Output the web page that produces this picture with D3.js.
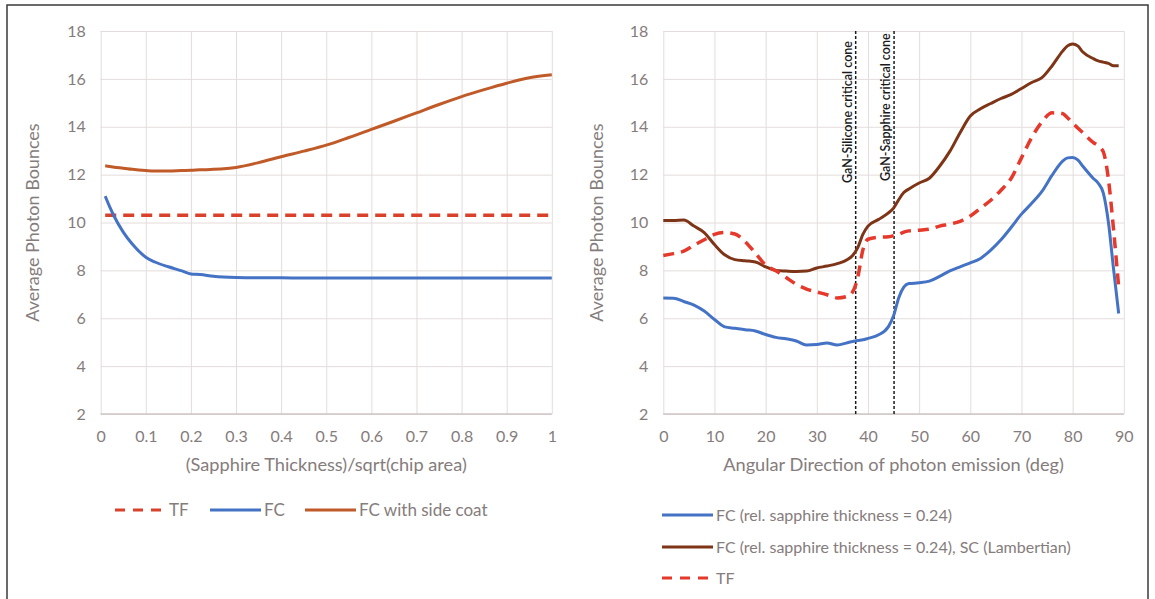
<!DOCTYPE html>
<html>
<head>
<meta charset="utf-8">
<script src="https://cdn.jsdelivr.net/npm/d3@7"></script>
<style>
  body { margin: 0; background: #fff; }
  text { font-family: Lato, "Open Sans", sans-serif; }
</style>
</head>
<body>
<script>
// ---- left panel data: relative sapphire thickness ----
var thickness = [0.01, 0.02, 0.03, 0.05, 0.07, 0.1, 0.12, 0.15, 0.18, 0.2, 0.22, 0.25, 0.3,
  0.35, 0.4, 0.45, 0.5, 0.55, 0.6, 0.65, 0.7, 0.75, 0.8, 0.85, 0.9, 0.95, 1.0];
var fcThick = [11.1, 10.65, 10.25, 9.6, 9.1, 8.55, 8.35, 8.15, 7.98, 7.85, 7.83, 7.75, 7.7,
  7.69, 7.69, 7.68, 7.68, 7.68, 7.68, 7.68, 7.68, 7.68, 7.68, 7.68, 7.68, 7.68, 7.68];
var scThick = [12.37, 12.34, 12.31, 12.27, 12.22, 12.17, 12.15, 12.15, 12.17, 12.18, 12.2, 12.22, 12.3,
  12.5, 12.75, 12.98, 13.23, 13.55, 13.89, 14.23, 14.58, 14.93, 15.26, 15.55, 15.82, 16.05, 16.17];
var tfThickX = [0.01, 1.0];
var tfThick = [10.3, 10.3];

// ---- right panel data: emission angle (deg) ----
var angles = [0, 2, 4, 6, 8, 10, 12, 14, 16, 18, 20, 22, 24, 26, 28, 30, 32, 34, 36, 37, 38, 39, 40,
  42, 44, 45, 46, 47, 48, 50, 52, 54, 56, 58, 60, 62, 64, 66, 68, 70, 72, 74, 76, 78, 79, 80, 81,
  82, 84, 85, 86, 87, 88, 89];
var fcAngle = [6.85, 6.84, 6.7, 6.55, 6.3, 5.95, 5.64, 5.58, 5.52, 5.47, 5.32, 5.2, 5.14, 5.05, 4.88,
  4.9, 4.97, 4.88, 4.98, 5.03, 5.07, 5.1, 5.16, 5.3, 5.65, 6.1, 6.85, 7.3, 7.45, 7.48, 7.55, 7.75,
  7.98, 8.15, 8.31, 8.5, 8.85, 9.28, 9.8, 10.35, 10.8, 11.3, 11.98, 12.55, 12.7, 12.72, 12.62,
  12.35, 11.85, 11.64, 11.23, 10.0, 8.05, 6.2];
var scAngle = [10.08, 10.08, 10.1, 9.85, 9.58, 9.08, 8.65, 8.45, 8.4, 8.35, 8.15, 8.0, 7.97, 7.95,
  7.97, 8.1, 8.18, 8.28, 8.45, 8.62, 8.95, 9.5, 9.85, 10.12, 10.4, 10.6, 10.95, 11.25, 11.4, 11.65,
  11.85, 12.35, 12.97, 13.75, 14.45, 14.75, 14.97, 15.18, 15.35, 15.6, 15.85, 16.05, 16.55, 17.15,
  17.38, 17.46, 17.38, 17.12, 16.85, 16.75, 16.7, 16.65, 16.55, 16.55];
var tfAngle = [8.62, 8.7, 8.8, 9.05, 9.28, 9.5, 9.58, 9.52, 9.2, 8.72, 8.22, 7.98, 7.7, 7.42, 7.22,
  7.1, 6.98, 6.85, 6.92, 7.1, 7.7, 8.85, 9.3, 9.38, 9.4, 9.45, 9.5, 9.6, 9.65, 9.68, 9.72, 9.85,
  9.93, 10.05, 10.27, 10.6, 10.93, 11.35, 11.85, 12.7, 13.55, 14.2, 14.58, 14.55, 14.38, 14.15,
  13.95, 13.75, 13.35, 13.2, 12.95, 11.8, 9.7, 7.3];

var yTicks = [2, 4, 6, 8, 10, 12, 14, 16, 18];
var thickTicks = [0, 0.1, 0.2, 0.3, 0.4, 0.5, 0.6, 0.7, 0.8, 0.9, 1];
var angleTicks = [0, 10, 20, 30, 40, 50, 60, 70, 80, 90];
var coneAngles = [37.6, 45.1];
var coneLabels = ["GaN-Silicone critical cone", "GaN-Sapphire critical cone"];

var svg = d3.select("body").append("svg")
    .attr("width", 1155)
    .attr("height", 599);

svg.append("rect")
    .attr("x", 7).attr("y", 5)
    .attr("width", 1141).attr("height", 620)
    .attr("fill", "#fff")
    .attr("stroke", "#3a3a3a")
    .attr("stroke-width", 1.5);

var plotTop = 31, plotBottom = 414;
var y = d3.scaleLinear().domain([2, 18]).range([plotBottom, plotTop]);

function pairs(xs, ys) {
    return xs.map(function(d, i) { return [d, ys[i]]; });
}

function panel(x0, x1, domain, ticks, fmt, xTitle, titleX) {
    var x = d3.scaleLinear().domain(domain).range([x0, x1]);
    var g = svg.append("g");

    // gridlines + tick labels
    var ya = g.append("g")
        .attr("transform", "translate(" + x0 + ",0)")
        .call(d3.axisLeft(y).tickValues(yTicks).tickSize(-(x1 - x0)).tickPadding(15));
    var xa = g.append("g")
        .attr("transform", "translate(0," + plotBottom + ")")
        .call(d3.axisBottom(x).tickValues(ticks).tickFormat(fmt).tickSize(-(plotBottom - plotTop)));
    [ya, xa].forEach(function(a) {
        a.select(".domain").remove();
        a.selectAll("line").attr("stroke", "#e4dcdc").attr("stroke-width", 1);
        a.selectAll("text").attr("fill", "#857c7c").style("font-size", "16px");
    });
    xa.selectAll("text").attr("dy", "0.35em").attr("y", 22);
    g.append("line")
        .attr("x1", x0).attr("x2", x1).attr("y1", plotBottom).attr("y2", plotBottom)
        .attr("stroke", "#cfc6c6").attr("stroke-width", 1.5);

    g.append("text")
        .attr("x", (x0 + x1) / 2).attr("y", 471)
        .attr("text-anchor", "middle")
        .attr("fill", "#857c7c")
        .style("font-size", "18.2px")
        .text(xTitle);
    g.append("text")
        .attr("transform", "translate(" + titleX + "," + ((plotTop + plotBottom) / 2) + ") rotate(-90)")
        .attr("text-anchor", "middle")
        .attr("fill", "#857c7c")
        .style("font-size", "18px")
        .text("Average Photon Bounces");
    return { x: x, g: g };
}

function drawLine(p, data, color, width, dash) {
    var line = d3.line()
        .x(function(d) { return p.x(d[0]); })
        .y(function(d) { return y(d[1]); })
        .curve(d3.curveMonotoneX);
    p.g.append("path")
        .datum(data)
        .attr("fill", "none")
        .attr("stroke", color)
        .attr("stroke-width", width)
        .attr("stroke-dasharray", dash || null)
        .attr("d", line);
}

function legendItem(x, yy, color, dash, label, size) {
    svg.append("line")
        .attr("x1", x).attr("x2", x + 51).attr("y1", yy).attr("y2", yy)
        .attr("stroke", color).attr("stroke-width", 3)
        .attr("stroke-dasharray", dash || null);
    svg.append("text")
        .attr("x", x + 54).attr("y", yy)
        .attr("dy", "0.35em")
        .attr("fill", "#857c7c")
        .style("font-size", size + "px")
        .text(label);
}

// ---- left panel ----
var left = panel(100.7, 551.8, [0, 1], thickTicks, function(d) { return String(d); },
    "(Sapphire Thickness)/sqrt(chip area)", 39);
drawLine(left, pairs(tfThickX, tfThick), "#d9412b", 3.5, "11,7");
drawLine(left, pairs(thickness, fcThick), "#4472c4", 3);
drawLine(left, pairs(thickness, scThick), "#c05a28", 3);

legendItem(115, 510, "#d9412b", "10,8", "TF", 17);
legendItem(210, 510, "#4472c4", null, "FC", 17);
legendItem(305, 510, "#c05a28", null, "FC with side coat", 17);

// ---- right panel ----
var right = panel(663.3, 1123.8, [0, 90], angleTicks, function(d) { return String(d); },
    "Angular Direction of photon emission (deg)", 603);

coneAngles.forEach(function(a, i) {
    var cx = right.x(a);
    right.g.append("line")
        .attr("x1", cx).attr("x2", cx).attr("y1", plotTop).attr("y2", plotBottom)
        .attr("stroke", "#1a1a1a").attr("stroke-width", 1.5)
        .attr("stroke-dasharray", "3,2");
    right.g.append("text")
        .attr("transform", "translate(" + (cx - 4) + "," + (i === 0 ? 183 : 181) + ") rotate(-90)")
        .attr("fill", "#1a1a1a")
        .style("font-size", "12.5px")
        .style("font-weight", "600")
        .text(coneLabels[i]);
});

drawLine(right, pairs(angles, fcAngle), "#4472c4", 3);
drawLine(right, pairs(angles, scAngle), "#7e3517", 3);
drawLine(right, pairs(angles, tfAngle), "#e5392b", 3.5, "11,7");

legendItem(662, 515, "#4472c4", null, "FC (rel. sapphire thickness = 0.24)", 16);
legendItem(662, 547, "#7e3517", null, "FC (rel. sapphire thickness = 0.24), SC (Lambertian)", 16);
legendItem(662, 578, "#e5392b", "10,8", "TF", 16);
</script>
</body>
</html>
